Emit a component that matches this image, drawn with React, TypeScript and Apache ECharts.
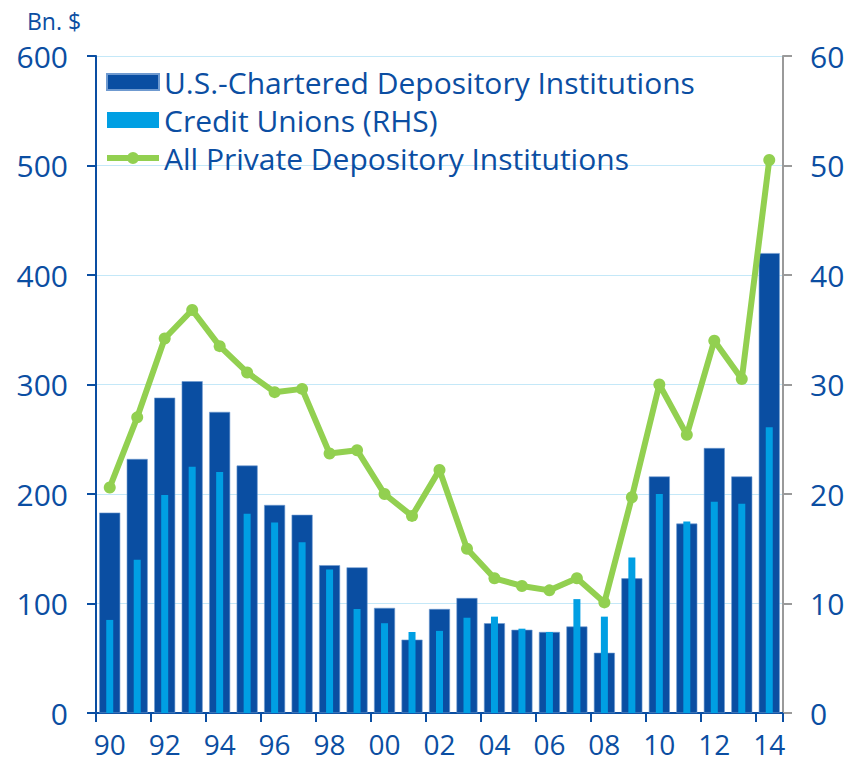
import React, { useEffect, useRef } from "react";
import * as echarts from "echarts";

const years = ["90","91","92","93","94","95","96","97","98","99","00","01","02","03","04","05","06","07","08","09","10","11","12","13","14"];
const charteredDepository = [183, 232, 288, 303, 275, 226, 190, 181, 135, 133, 96, 67, 95, 105, 82, 76, 74, 79, 55, 123, 216, 173, 242, 216, 420];
const creditUnionsRHS = [8.5, 14.0, 19.9, 22.5, 22.0, 18.2, 17.4, 15.6, 13.1, 9.5, 8.2, 7.4, 7.5, 8.7, 8.8, 7.7, 7.4, 10.4, 8.8, 14.2, 20.0, 17.5, 19.3, 19.1, 26.1];
const allPrivateDepository = [206, 270, 342, 368, 335, 311, 293, 296, 237, 240, 200, 180, 222, 150, 123, 116, 112, 123, 101, 197, 300, 254, 340, 305, 505];
const leftTicks = { min: 0, max: 600, interval: 100 };
const rightTicks = { min: 0, max: 60, interval: 10 };

const DARK = "#0a4ea2";
const LIGHT = "#009fe3";
const GREEN = "#92d050";
const TEXT = "#0b4ea2";
const GRID = "#c4e8f8";
const FONT = "Open Sans";
const LINE_ICON = "path://M0,5 L52,5 L52,11 L0,11 Z M20,8 A6,6 0 1,1 32,8 A6,6 0 1,1 20,8 Z";

export default function App() {
  const ref = useRef<HTMLDivElement>(null);
  useEffect(() => {
    if (!ref.current) return;
    const chart = echarts.init(ref.current, undefined, { renderer: "svg" });
    chart.setOption({
      animation: false,
      textStyle: { fontFamily: FONT },
      grid: { left: 96, right: 67, top: 56, bottom: 51, containLabel: false },
      graphic: [
        { type: "text", left: 27, top: 9, style: { text: "Bn. $", fontSize: 23, fill: TEXT, fontFamily: FONT } },
      ],
      legend: {
        orient: "vertical",
        left: 101,
        top: 62,
        itemWidth: 52,
        itemHeight: 16,
        itemGap: 8,
        textStyle: { color: TEXT, fontSize: 30, fontFamily: FONT, lineHeight: 30 },
        data: [
          { name: "U.S.-Chartered Depository Institutions", icon: "rect" },
          { name: "Credit Unions (RHS)", icon: "rect" },
          { name: "All Private Depository Institutions", icon: LINE_ICON, itemStyle: { color: GREEN } },
        ],
      },
      xAxis: [
        {
          type: "category",
          data: years,
          boundaryGap: true,
          axisLine: { lineStyle: { color: DARK, width: 2 } },
          axisTick: { show: true, interval: 1, length: 9, lineStyle: { color: DARK, width: 2 } },
          axisLabel: { interval: 1, color: TEXT, fontSize: 28, lineHeight: 26, margin: 18, fontFamily: FONT },
          splitLine: { show: false },
        },
        {
          type: "category",
          data: years,
          boundaryGap: true,
          show: false,
        },
      ],
      yAxis: [
        {
          type: "value",
          ...leftTicks,
          position: "left",
          axisLine: { show: true, lineStyle: { color: DARK, width: 2 } },
          axisTick: { show: true, length: 9, lineStyle: { color: DARK, width: 2 } },
          axisLabel: { color: TEXT, fontSize: 30, margin: 28, fontFamily: FONT },
          splitLine: { show: true, lineStyle: { color: GRID, width: 1 } },
        },
        {
          type: "value",
          ...rightTicks,
          position: "right",
          axisLine: { show: true, lineStyle: { color: "#9a9a9a", width: 2 } },
          axisTick: { show: true, length: 9, lineStyle: { color: "#9a9a9a", width: 2 } },
          axisLabel: { color: TEXT, fontSize: 30, margin: 27, fontFamily: FONT },
          splitLine: { show: false },
        },
      ],
      series: [
        {
          name: "U.S.-Chartered Depository Institutions",
          type: "bar",
          xAxisIndex: 0,
          yAxisIndex: 0,
          data: charteredDepository,
          barWidth: 21,
          itemStyle: { color: DARK, borderColor: "#6f9ad0", borderWidth: 0.6 },
          z: 2,
        },
        {
          name: "Credit Unions (RHS)",
          type: "bar",
          xAxisIndex: 1,
          yAxisIndex: 1,
          data: creditUnionsRHS,
          barWidth: 7,
          itemStyle: { color: LIGHT },
          z: 3,
        },
        {
          name: "All Private Depository Institutions",
          type: "line",
          xAxisIndex: 0,
          yAxisIndex: 0,
          data: allPrivateDepository,
          symbol: "circle",
          symbolSize: 12,
          lineStyle: { color: GREEN, width: 6 },
          itemStyle: { color: GREEN },
          z: 5,
        },
      ],
    });
    return () => chart.dispose();
  }, []);
  return <div ref={ref} style={{ width: 850, height: 764, position: "absolute", left: 0, top: 0 }} />;
}
